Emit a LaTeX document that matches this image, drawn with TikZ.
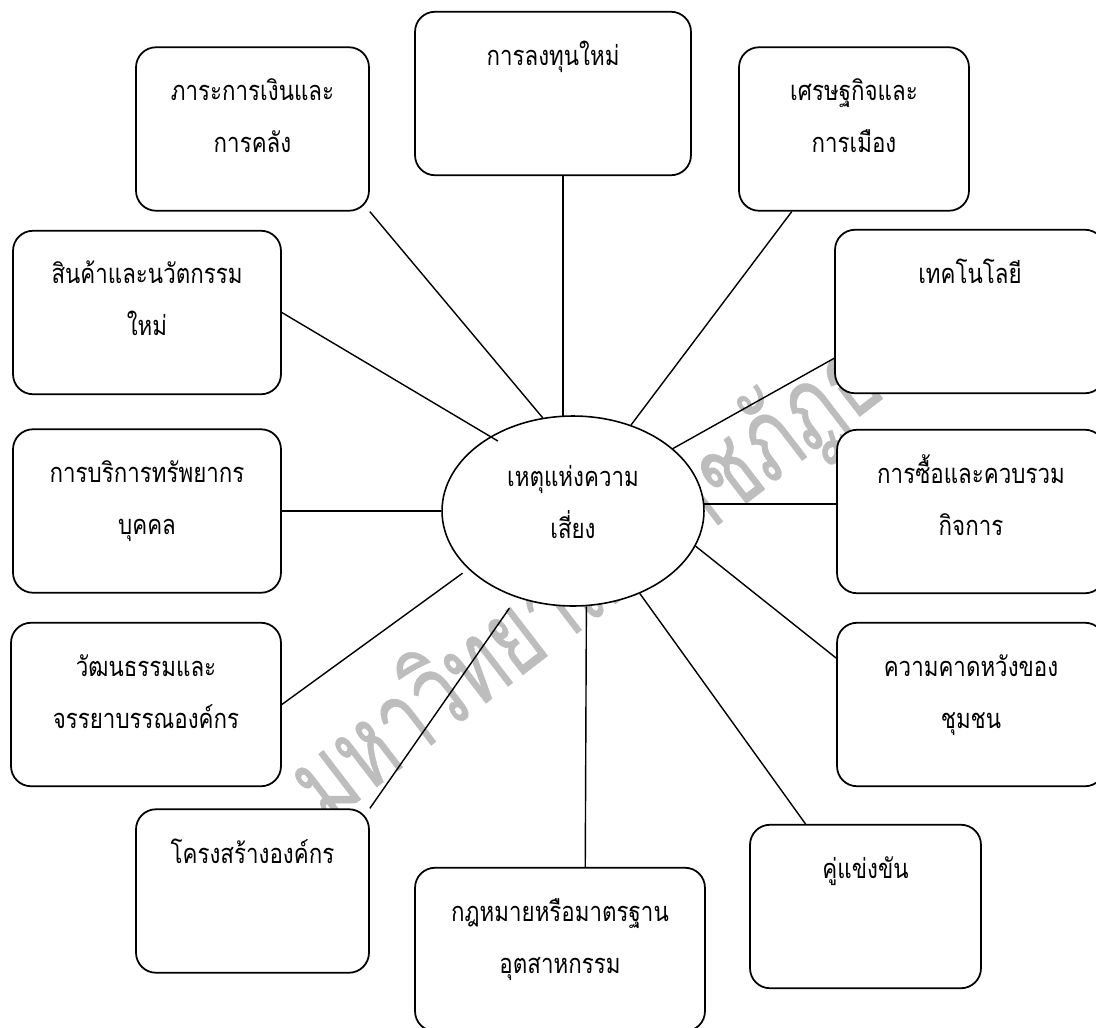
\documentclass[tikz,border=0pt]{standalone}
\usepackage{fontspec}
\newfontfamily\thaifont[Script=Thai, FakeStretch=0.82]{Loma}
\newfontfamily\wmfont[Script=Thai, FakeStretch=0.7, FakeBold=0.4]{Loma}
\usetikzlibrary{shapes.geometric}
\definecolor{wmgray}{gray}{0.74}
\begin{document}
\begin{tikzpicture}[x=0.02cm, y=-0.02cm,
  box/.style={draw, line width=1pt, fill=white, rounded corners=0.4cm, inner sep=0pt, minimum height=\bh cm},
  lbl/.style={font=\thaifont\fontsize{15.5}{29.5}\selectfont, align=center, inner sep=0pt, anchor=base},
  link/.style={line width=0.8pt}]
\pgfmathsetmacro{\bh}{3.27};
\useasboundingbox (0,0) rectangle (1096,1028);
% watermark
\node[font=\wmfont\fontsize{63}{63}\selectfont, text=wmgray, anchor=base west, rotate=37.5, inner sep=0pt] (wm) at (326,826) {มหาวิทยาลัยราชภัฏธนบุรี};
\begin{scope}
\node[draw, ellipse, line width=0.9pt, fill=white, minimum width=5.24cm, minimum height=3.8cm, inner sep=0pt] (risk) at (573,511) {};
\node[box, minimum width=4.66cm] (finance) at (252.5,129) {};
\node[box, minimum width=5.52cm] (invest) at (553,93.5) {};
\node[box, minimum width=4.6cm] (econ) at (854,129) {};
\node[box, minimum width=5.36cm] (product) at (147,312.5) {};
\node[box, minimum width=5.4cm] (tech) at (970,311.5) {};
\node[box, minimum width=5.36cm] (hr) at (147,511) {};
\node[box, minimum width=5.36cm] (merge) at (971,511.5) {};
\node[box, minimum width=5.4cm] (culture) at (146,704.5) {};
\node[box, minimum width=5.36cm] (comm) at (971,704.5) {};
\node[box, minimum width=4.66cm] (struct) at (252.5,891) {};
\node[box, minimum width=4.62cm] (comp) at (865.5,906.5) {};
\node[box, minimum width=5.8cm] (law) at (560,949.5) {};
\end{scope}
% texts (two-line nodes sit on the baseline of their last line)
\node[lbl] (riskT) at (573,538) {เหตุแห่งความ\\เสี่ยง};
\node[lbl] (financeT) at (252.5,152) {ภาระการเงินและ\\การคลัง};
\node[lbl] (investT) at (553,65) {การลงทุนใหม่};
\node[lbl] (econT) at (854,152) {เศรษฐกิจและ\\การเมือง};
\node[lbl] (productT) at (147,335) {สินค้าและนวัตกรรม\\ใหม่};
\node[lbl] (techT) at (970,283) {เทคโนโลยี};
\node[lbl] (hrT) at (147,534) {การบริการทรัพยากร\\บุคคล};
\node[lbl] (mergeT) at (971,535) {การซื้อและควบรวม\\กิจการ};
\node[lbl] (cultureT) at (146,728) {วัฒนธรรมและ\\จรรยาบรรณองค์กร};
\node[lbl] (commT) at (971,728) {ความคาดหวังของ\\ชุมชน};
\node[lbl] (structT) at (252.5,863) {โครงสร้างองค์กร};
\node[lbl] (compT) at (865.5,878) {คู่แข่งขัน};
\node[lbl] (lawT) at (560,973) {กฎหมายหรือมาตรฐาน\\อุตสาหกรรม};
% links
\draw[link] (finance.south east) -- (risk.108);
\draw[link] (risk.96) -- (risk.96 |- invest.south);
\draw[link] (econ.233) -- (risk.56);
\draw[link] (tech.199) -- (risk.32);
\draw[link] (risk.3) -- (risk.3 -| merge.west);
\draw[link] (comm.161) -- (risk.-16);
\draw[link] (comp.126) -- (risk.-51);
\draw[link] (law.73) -- (risk.-82);
\draw[link, shorten >=0.26cm] (struct.north east) -- (risk.-123);
\draw[link, shorten >=0.14cm] (culture.east) -- (risk.209);
\draw[link] (hr.east) -- (risk.west);
\draw[link, shorten >=-0.18cm] (product.east) -- (risk.138);
\end{tikzpicture}
\end{document}
